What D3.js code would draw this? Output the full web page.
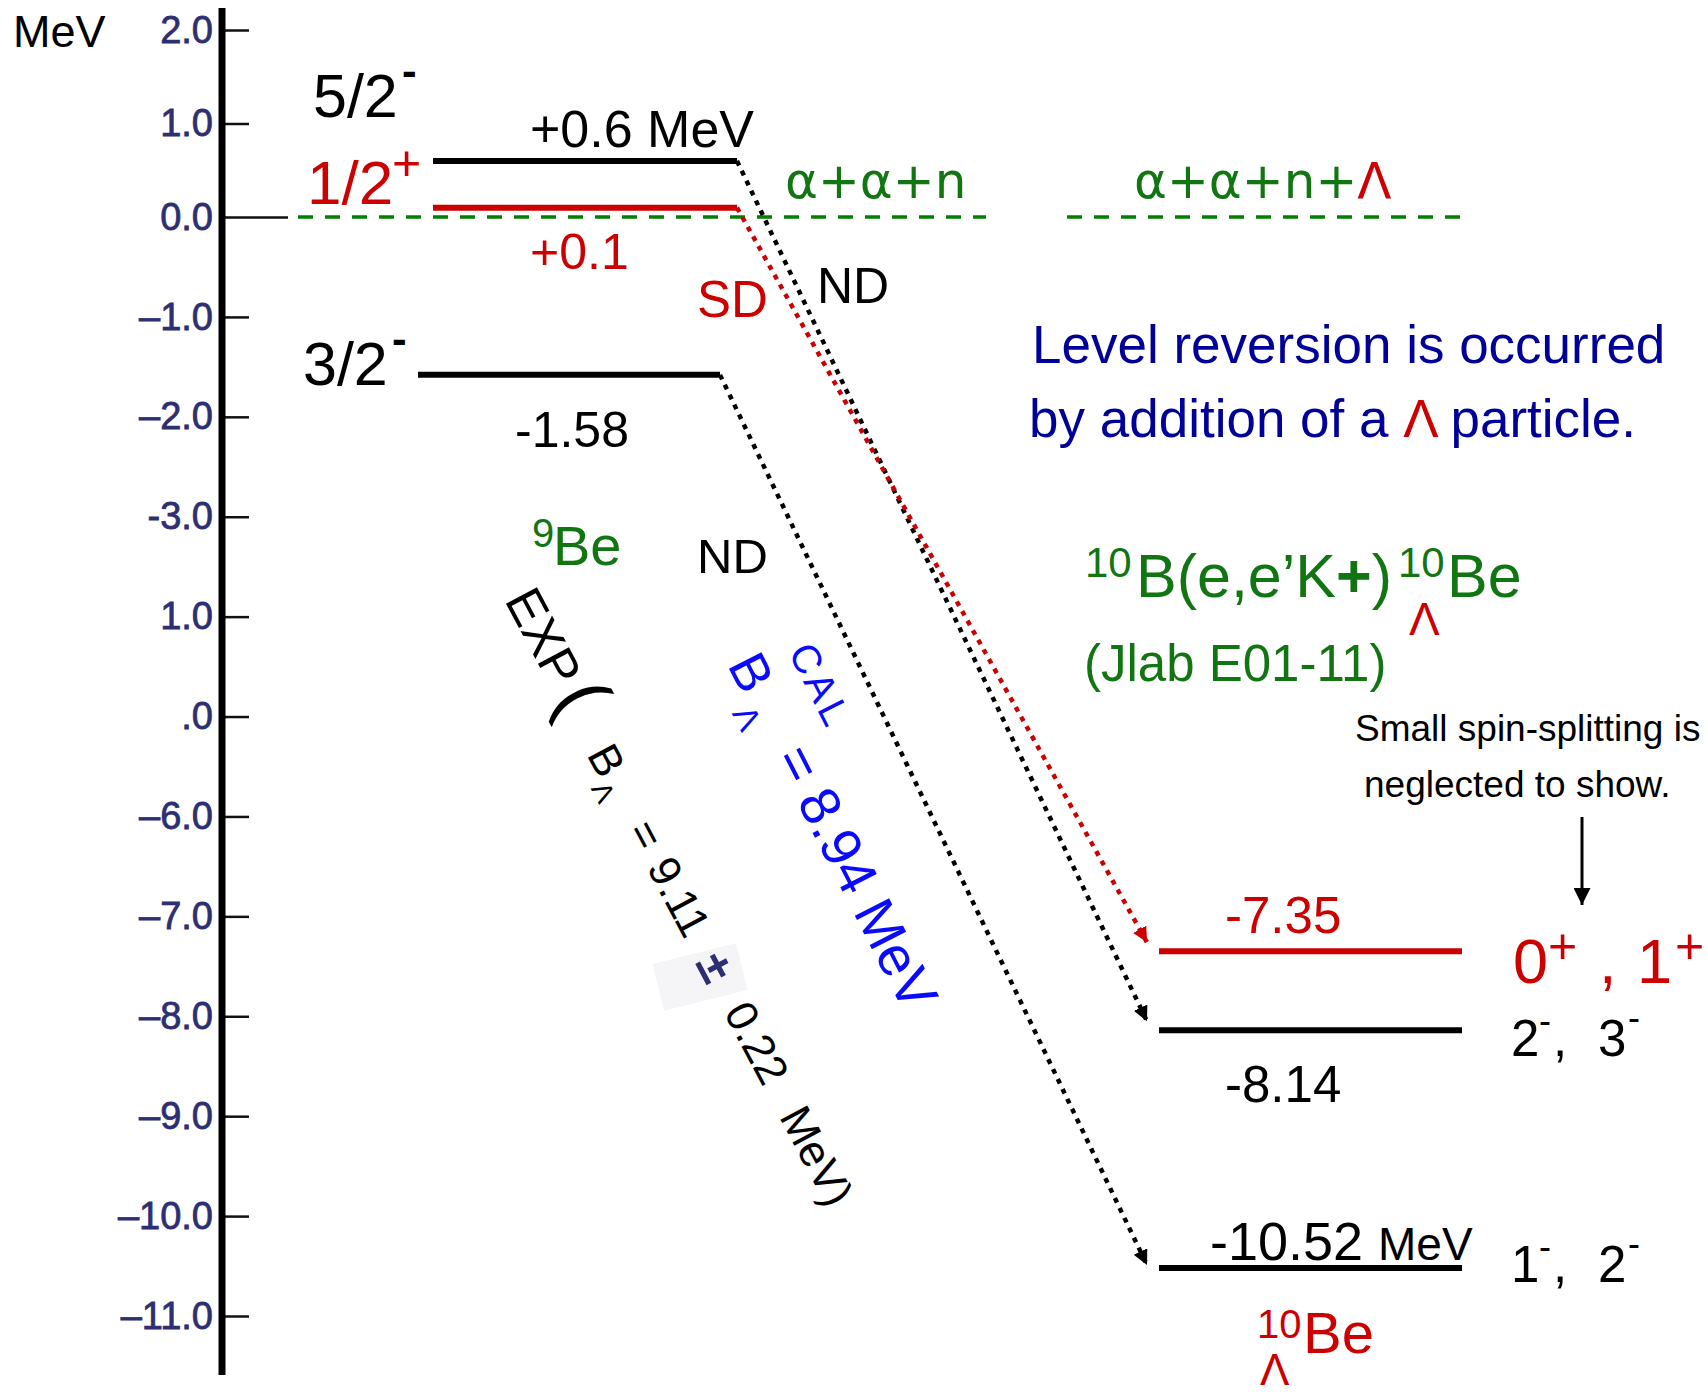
<!DOCTYPE html>
<html>
<head>
<meta charset="utf-8">
<script src="https://cdn.jsdelivr.net/npm/d3@7"></script>
<style>
  html, body { margin: 0; padding: 0; background: #fff; }
  svg { display: block; font-family: "Liberation Sans", Arial, sans-serif; }
</style>
</head>
<body>
<div id="chart"></div>
<script>
/* Level scheme: 9Be -> 10ΛBe, energies in MeV. */

var energyTicks = [2, 1, 0, -1, -2, -3, -4, -5, -6, -7, -8, -9, -10, -11];
var energyTickLabels = ["2.0", "1.0", "0.0", "\u20131.0", "\u20132.0", "-3.0", "1.0", ".0",
  "\u20136.0", "\u20137.0", "\u20138.0", "\u20139.0", "\u201310.0", "\u201311.0"];

var be9States = ["5/2", "1/2", "3/2"];
var be9Parity = ["-", "+", "-"];
var be9Energy = [0.6, 0.1, -1.58];
var be9EnergyLabels = ["+0.6 MeV", "+0.1", "-1.58"];

var hyperStates = [["0", "1"], ["2", "3"], ["1", "2"]];
var hyperParity = ["+", "-", "-"];
var hyperEnergy = [-7.35, -8.14, -10.52];
var hyperEnergyLabels = ["-7.35", "-8.14", "-10.52"];

var linkFrom = [0, 1, 2];
var linkTo = [1, 0, 2];
var linkTags = ["ND", "SD", "ND"];

var thresholdEnergy = [0, 0];
var thresholdLabels = ["\u03b1+\u03b1+n", "\u03b1+\u03b1+n+"];

var expBLambda = ["9.11", "0.22"];
var calBLambda = "8.94";

var RED = "#cc0000", GREEN = "#117511", NAVY = "#000099", BLUE = "#0a0aff";

var d3 = window.d3;
var W = 1708, H = 1395;
var svg = d3.select("#chart").append("svg")
  .attr("width", W).attr("height", H)
  .attr("viewBox", "0 0 " + W + " " + H);

var defs = svg.append("defs");
function marker(id, color, size) {
  defs.append("marker").attr("id", id)
    .attr("viewBox", "0 0 10 10").attr("refX", 10).attr("refY", 5)
    .attr("markerWidth", size).attr("markerHeight", size)
    .attr("markerUnits", "userSpaceOnUse").attr("orient", "auto")
    .append("path").attr("d", "M0,0L10,5L0,10z").attr("fill", color);
}
marker("ah-k", "#000", 15);
marker("ah-r", RED, 15);
marker("ah-s", "#000", 17);

// the drawn axis is a bit compressed above zero
var y = d3.scaleLinear().domain([2, 0, -11]).range([30, 217, 1316]);
var axisX = 222;

function text(parent, x, yy, s, size, color, extra) {
  var t = parent.append("text").attr("x", x).attr("y", yy)
    .attr("font-size", size).attr("fill", color || "#000").text(s);
  if (extra) Object.keys(extra).forEach(function (k) { t.attr(k, extra[k]); });
  return t;
}

/* Axis */
var ax = svg.append("g").attr("transform", "translate(" + axisX + ",0)")
  .call(d3.axisLeft(y).tickValues(energyTicks).tickSizeInner(-27).tickSizeOuter(0)
    .tickPadding(9).tickFormat(function (d, i) { return energyTickLabels[i]; }));
ax.select(".domain").remove();
ax.selectAll(".tick line").attr("stroke", "#111").attr("stroke-width", 2.5)
  .filter(function (d) { return d === 0; }).attr("x2", 66);
ax.selectAll(".tick text").attr("font-family", "Liberation Sans, Arial, sans-serif")
  .attr("font-size", 38).attr("fill", "#2d2f72")
  .attr("stroke", "#2d2f72").attr("stroke-width", 0.8);
svg.append("line").attr("x1", axisX).attr("x2", axisX).attr("y1", 8).attr("y2", 1375)
  .attr("stroke", "#000").attr("stroke-width", 7);
text(svg, 13, 47, "MeV", 45);

/* Thresholds */
var threshSpans = [[298, 986], [1067, 1460]];
var threshLabelX = [785, 1134];
thresholdEnergy.forEach(function (e, i) {
  svg.append("line").attr("x1", threshSpans[i][0]).attr("x2", threshSpans[i][1])
    .attr("y1", y(e)).attr("y2", y(e))
    .attr("stroke", "#008000").attr("stroke-width", 3.5).attr("stroke-dasharray", "15 12");
  var t = text(svg, threshLabelX[i], y(e) - 19, thresholdLabels[i], 50, GREEN,
    { "font-family": "DejaVu Sans" });
  if (i === 1) t.append("tspan").attr("fill", RED).text("\u039b");
});

/* 9Be levels */
var leftSpans = [[433, 737], [433, 737], [418, 720]];
var be9Color = function (i) { return be9Parity[i] === "+" ? RED : "#000"; };
be9Energy.forEach(function (e, i) {
  svg.append("line").attr("x1", leftSpans[i][0]).attr("x2", leftSpans[i][1])
    .attr("y1", y(e)).attr("y2", y(e)).attr("stroke", be9Color(i)).attr("stroke-width", 6);
});
// spin labels
var ly = be9Energy.map(function (e) { return y(e); });
text(svg, 313, ly[0] - 44, be9States[0], 61);
text(svg, 402, ly[0] - 75, be9Parity[0], 44, "#000", { "font-weight": "bold" });
text(svg, 307, ly[1] - 4, be9States[1], 62, RED);
text(svg, 392, ly[1] - 28, be9Parity[1], 50, RED);
text(svg, 303, ly[2] + 10, be9States[2], 61);
text(svg, 392, ly[2] - 21, be9Parity[2], 44, "#000", { "font-weight": "bold" });
// energy labels
text(svg, 530, ly[0] - 14, be9EnergyLabels[0], 52);
text(svg, 530, ly[1] + 61, be9EnergyLabels[1], 50, RED);
text(svg, 515, ly[2] + 72, be9EnergyLabels[2], 50);
// nucleus name
text(svg, 532, 547, "9", 40, GREEN);
text(svg, 553, 565, "Be", 56, GREEN);

/* 10ΛBe levels */
var rightSpan = [1159, 1462];
var hyColor = function (i) { return hyperParity[i] === "+" ? RED : "#000"; };
var ry = hyperEnergy.map(function (e) { return y(e); });
hyperEnergy.forEach(function (e, i) {
  svg.append("line").attr("x1", rightSpan[0]).attr("x2", rightSpan[1])
    .attr("y1", y(e)).attr("y2", y(e)).attr("stroke", hyColor(i)).attr("stroke-width", 6);
});
text(svg, 1225, ry[0] - 18, hyperEnergyLabels[0], 51, RED);
text(svg, 1225, ry[1] + 72, hyperEnergyLabels[1], 51);
text(svg, 1210, ry[2] - 8, hyperEnergyLabels[2], 54);
text(svg, 1378, ry[2] - 8, "MeV", 46);

// spin doublets
var s0 = hyperStates[0];
text(svg, 1513, ry[0] + 32, s0[0], 63, RED);
text(svg, 1548, ry[0] + 12, hyperParity[0], 50, RED);
text(svg, 1599, ry[0] + 32, ",", 63, RED);
text(svg, 1637, ry[0] + 32, s0[1], 63, RED);
text(svg, 1675, ry[0] + 12, hyperParity[0], 50, RED);
[1, 2].forEach(function (i) {
  var b = ry[i] + (i === 1 ? 26 : 14);
  text(svg, 1511, b, hyperStates[i][0], 51);
  text(svg, 1539, b - 23, hyperParity[i], 36);
  text(svg, 1553, b, ",", 51);
  text(svg, 1598, b, hyperStates[i][1], 51);
  text(svg, 1628, b - 26, hyperParity[i], 36);
});

// hypernucleus name
text(svg, 1257, 1338, "10", 40, RED);
text(svg, 1303, 1353, "Be", 58, RED);
text(svg, 1260, 1385, "\u039b", 44, RED);

/* Transitions */
linkFrom.forEach(function (a, k) {
  var b = linkTo[k];
  var red = be9Parity[a] === "+";
  svg.append("line")
    .attr("x1", leftSpans[a][1]).attr("y1", y(be9Energy[a]))
    .attr("x2", rightSpan[0] - 12).attr("y2", y(hyperEnergy[b]) - (b === 2 ? 3 : 9))
    .attr("stroke", red ? RED : "#000").attr("stroke-width", 4.5)
    .attr("stroke-dasharray", "5 6")
    .attr("marker-end", red ? "url(#ah-r)" : "url(#ah-k)");
});
text(svg, 817, 303, linkTags[0], 50);
text(svg, 697, 317, linkTags[1], 51, RED);
text(svg, 697, 573, linkTags[2], 49);

/* Rotated B_Λ labels */
svg.append("rect").attr("x", 657).attr("y", 953).attr("width", 86).attr("height", 48)
  .attr("fill", "#f5f5f7").attr("transform", "rotate(-14,700,977)");
var ge = svg.append("g").attr("transform", "translate(504,600) rotate(62)");
text(ge, 0, 0, "EXP", 51);
text(ge, 110, 2, "(", 76);
text(ge, 175, 0, "B", 44);
text(ge, 207, 12, "\u039b", 28);
text(ge, 261, 0, "=", 44);
text(ge, 303, 0, expBLambda[0], 44);
text(ge, 410, 2, "\u00b1", 48, "#2d2f72", { "font-weight": "bold" });
text(ge, 467, 0, expBLambda[1], 44);
text(ge, 585, 0, "MeV)", 44);

var gc = svg.append("g").attr("transform", "translate(727,665) rotate(63)");
text(gc, 0, 0, "B", 53, BLUE);
text(gc, 16, -60, "CAL", 40, BLUE, { "letter-spacing": 4 });
text(gc, 45, 18, "\u039b", 34, BLUE);
text(gc, 104, 0, "= " + calBLambda + " MeV", 56, BLUE);

/* Notes */
text(svg, 1032, 363, "Level reversion is occurred", 53, NAVY);
var n2 = text(svg, 1029, 437, "by addition of a ", 53, NAVY);
n2.append("tspan").attr("fill", RED).text("\u039b");
n2.append("tspan").text(" particle.");

text(svg, 1085, 577, "10", 42, GREEN);
var rx = text(svg, 1136, 597, "B(e,e\u2019K", 61, GREEN);
rx.append("tspan").attr("font-weight", "bold").text("+");
rx.append("tspan").text(")");
text(svg, 1398, 577, "10", 42, GREEN);
text(svg, 1447, 597, "Be", 61, GREEN);
text(svg, 1409, 635, "\u039b", 46, RED);
text(svg, 1084, 681, "(Jlab E01-11)", 51, GREEN);

text(svg, 1355, 741, "Small spin-splitting is", 37);
text(svg, 1364, 797, "neglected to show.", 37);
svg.append("line").attr("x1", 1582).attr("x2", 1582).attr("y1", 817).attr("y2", 905)
  .attr("stroke", "#000").attr("stroke-width", 3).attr("marker-end", "url(#ah-s)");
</script>
</body>
</html>
